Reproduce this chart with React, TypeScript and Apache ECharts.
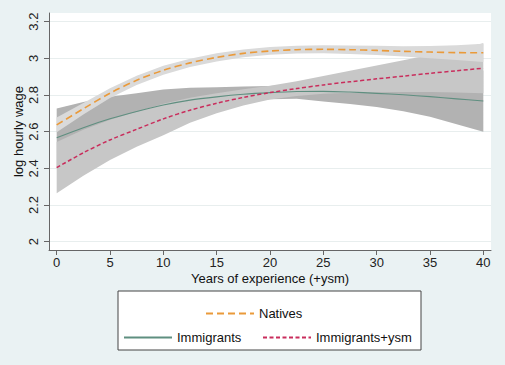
import React, { useEffect, useRef } from 'react';
import * as echarts from 'echarts';

// Years of experience (+ysm)
const years = [0, 2.5, 5, 7.5, 10, 12.5, 15, 17.5, 20, 22.5, 25, 27.5, 30, 32.5, 35, 37.5, 40];

// Natives fit and confidence band
const nativesFit = [2.637, 2.725, 2.81, 2.88, 2.935, 2.975, 3.005, 3.027, 3.04, 3.047, 3.049, 3.047, 3.043, 3.038, 3.034, 3.031, 3.03];
const nativesLow = [2.597, 2.693, 2.783, 2.855, 2.911, 2.952, 2.983, 3.006, 3.019, 3.026, 3.027, 3.024, 3.018, 3.01, 3.001, 2.991, 2.98];
const nativesHigh = [2.677, 2.757, 2.837, 2.905, 2.959, 2.998, 3.027, 3.048, 3.061, 3.068, 3.071, 3.07, 3.068, 3.066, 3.067, 3.071, 3.08];

// Immigrants fit and confidence band
const immFit = [2.567, 2.622, 2.67, 2.71, 2.745, 2.772, 2.79, 2.804, 2.813, 2.819, 2.82, 2.816, 2.809, 2.801, 2.791, 2.779, 2.767];
const immLow = [2.407, 2.482, 2.55, 2.61, 2.66, 2.705, 2.738, 2.762, 2.777, 2.779, 2.765, 2.751, 2.734, 2.711, 2.681, 2.641, 2.6];
const immHigh = [2.727, 2.762, 2.79, 2.81, 2.83, 2.839, 2.842, 2.846, 2.849, 2.859, 2.875, 2.881, 2.884, 2.891, 2.901, 2.917, 2.934];

// Immigrants+ysm fit and confidence band
const ysmFit = [2.404, 2.485, 2.555, 2.613, 2.67, 2.717, 2.755, 2.787, 2.813, 2.835, 2.855, 2.872, 2.888, 2.903, 2.918, 2.932, 2.946];
const ysmLow = [2.264, 2.36, 2.445, 2.518, 2.58, 2.649, 2.7, 2.743, 2.775, 2.795, 2.807, 2.812, 2.815, 2.816, 2.816, 2.814, 2.81];
const ysmHigh = [2.544, 2.61, 2.665, 2.708, 2.752, 2.785, 2.81, 2.831, 2.851, 2.875, 2.903, 2.932, 2.961, 2.99, 3.02, 3.05, 3.082];

const xTicks = [0, 5, 10, 15, 20, 25, 30, 35, 40];
const yTicks = [2, 2.2, 2.4, 2.6, 2.8, 3, 3.2];

const FONT = '"Liberation Sans", Arial, sans-serif';

const pairs = (ys: number[]) => years.map((x, i) => [x, ys[i]]);

function band(id: string, low: number[], high: number[], color: string) {
  return {
    type: 'custom',
    name: id,
    silent: true,
    data: years.map((x, i) => [x, low[i], high[i]]),
    encode: { x: 0, y: [1, 2] },
    renderItem: (params: any, api: any) => {
      if (params.dataIndex !== 0) return null;
      const pts: number[][] = [];
      for (let i = 0; i < years.length; i++) pts.push(api.coord([years[i], high[i]]));
      for (let i = years.length - 1; i >= 0; i--) pts.push(api.coord([years[i], low[i]]));
      return {
        type: 'polygon',
        shape: { points: pts },
        style: { fill: color, stroke: null },
      };
    },
  };
}

export default function App() {
  const ref = useRef<HTMLDivElement>(null);
  useEffect(() => {
    document.body.style.margin = '0';
    const chart = echarts.init(ref.current!, null, { renderer: 'svg' });
    const legendCommon = {
      orient: 'horizontal' as const,
      padding: 0,
      itemWidth: 48,
      itemHeight: 10,
      selectedMode: false,
      itemStyle: { opacity: 0 },
      textStyle: { fontSize: 13, color: '#111', fontFamily: FONT },
    };
    chart.setOption({
      animation: false,
      backgroundColor: '#EAF2F3',
      textStyle: { fontFamily: FONT },
      grid: {
        left: 49,
        right: 14,
        top: 13,
        bottom: 115,
        show: true,
        backgroundColor: '#ffffff',
        borderWidth: 0,
        containLabel: false,
        outerBoundsMode: 'none',
      },
      xAxis: {
        type: 'value',
        min: -0.72,
        max: 40.72,
        name: 'Years of experience (+ysm)',
        nameLocation: 'middle',
        nameGap: 22,
        nameMoveOverlap: false,
        nameTextStyle: { fontSize: 13, color: '#111', fontFamily: FONT },
        axisLine: { show: true, onZero: false, lineStyle: { color: '#666', width: 1 } },
        axisTick: { show: true, customValues: xTicks, length: 5, lineStyle: { color: '#666' } },
        axisLabel: { customValues: xTicks, color: '#222', fontSize: 13, margin: 6, fontFamily: FONT },
        splitLine: { show: false },
      },
      yAxis: {
        type: 'value',
        min: 1.955,
        max: 3.247,
        name: 'log hourly wage',
        nameLocation: 'middle',
        nameRotate: 90,
        nameGap: 24,
        nameMoveOverlap: false,
        nameTextStyle: { fontSize: 13, color: '#111', fontFamily: FONT },
        axisLine: { show: true, onZero: false, lineStyle: { color: '#666', width: 1 } },
        axisTick: { show: true, customValues: yTicks, length: 5, lineStyle: { color: '#666' } },
        axisLabel: { customValues: yTicks, rotate: 90, color: '#222', fontSize: 13, margin: 9, fontFamily: FONT },
        splitLine: { show: true, lineStyle: { color: '#E8EEEE', width: 1 } },
      },
      graphic: [
        {
          type: 'rect',
          shape: { x: 118, y: 291, width: 303, height: 59 },
          style: { fill: '#ffffff', stroke: '#444', lineWidth: 1 },
          z: 1,
        },
      ],
      legend: [
        { ...legendCommon, data: ['Natives'], left: 205, top: 307 },
        { ...legendCommon, data: ['Immigrants'], left: 123, top: 331 },
        { ...legendCommon, data: ['Immigrants+ysm'], left: 262, top: 331 },
      ],
      series: [
        band('imm', immLow, immHigh, '#B2B2B2'),
        band('ysm', ysmLow, ysmHigh, '#C7C7C7'),
        band('nat', nativesLow, nativesHigh, '#DADADA'),
        {
          name: 'Immigrants',
          type: 'line',
          data: pairs(immFit),
          symbol: 'none',
          smooth: 0.3,
          silent: true,
          color: '#5F8F80',
          lineStyle: { color: '#5F8F80', width: 1.1, type: 'solid' },
        },
        {
          name: 'Immigrants+ysm',
          type: 'line',
          data: pairs(ysmFit),
          symbol: 'none',
          smooth: 0.3,
          silent: true,
          color: '#C92D5C',
          lineStyle: { color: '#C92D5C', width: 1.5, type: [4, 2.5] },
        },
        {
          name: 'Natives',
          type: 'line',
          data: pairs(nativesFit),
          symbol: 'none',
          smooth: 0.3,
          silent: true,
          color: '#EA9A3A',
          lineStyle: { color: '#EA9A3A', width: 1.6, type: [7, 4] },
        },
      ],
    });
    return () => chart.dispose();
  }, []);
  return <div ref={ref} style={{ width: 505, height: 365 }} />;
}
